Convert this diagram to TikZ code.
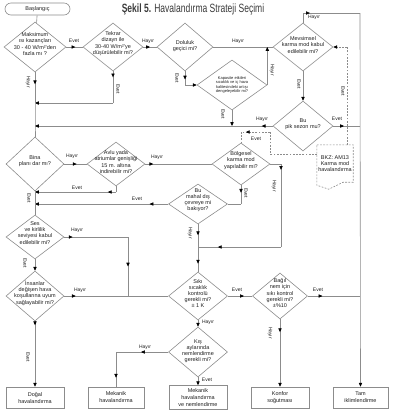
\documentclass[tikz,border=0pt]{standalone}
\usepackage{fontspec}
\setmainfont{Liberation Sans}
\usepackage{graphicx}
\usetikzlibrary{shapes.geometric,arrows.meta,decorations.markings}
\definecolor{lg}{HTML}{8C8C8C}
\definecolor{tx}{HTML}{1E1E1E}
\definecolor{ttlc}{HTML}{3A3A3A}
\tikzset{
  mytri/.tip={Triangle[length=3.8pt,width=3.3pt,color=black]},
  ln/.style={draw=lg, line width=0.6pt},
  dl/.style={draw=lg, line width=0.6pt, dash pattern=on 1.8pt off 1.4pt},
  ar/.style={postaction={decorate, decoration={markings, mark=at position #1 with {\arrow{mytri}}}}},
  ar2/.style 2 args={postaction={decorate, decoration={markings, mark=at position #1 with {\arrow{mytri}}, mark=at position #2 with {\arrow{mytri}}}}},
  ae/.style={-{mytri}},
  dia/.style 2 args={diamond, draw=lg, line width=0.6pt, minimum width=#1pt, minimum height=#2pt, inner sep=0pt},
  dt/.style={font=\fontsize{5.5}{6.2}\selectfont, text=tx, align=center, inner sep=0pt},
  dts/.style={font=\fontsize{4}{4.2}\selectfont, text=tx, align=center, inner sep=0pt},
  boxst/.style={draw=lg, line width=0.6pt, minimum width=#1pt, minimum height=21pt, inner sep=0pt, align=center, font=\fontsize{5.5}{7}\selectfont, text=tx},
  startst/.style={draw=lg, line width=0.6pt, rounded corners=6pt, minimum width=65pt, minimum height=12pt, inner sep=0pt, font=\fontsize{5.5}{6.2}\selectfont, text=tx},
  bkzst/.style={minimum width=36pt, minimum height=37pt, inner sep=0pt, align=center, font=\fontsize{5.5}{6.2}\selectfont, text=tx},
  lab/.style={font=\fontsize{5}{6}\selectfont, text=tx, inner sep=0pt},
  labv/.style={lab, rotate=-90},
  ttl/.style={font=\fontsize{12}{14}\selectfont, text=ttlc, inner sep=0pt}
}
\begin{document}
\begin{tikzpicture}[x=1pt,y=-1pt]
\useasboundingbox (0,0) rectangle (400,416);
\node[ttl] (title) at (193,9.5) {\scalebox{0.71}[1]{\textbf{Şekil 5.} Havalandırma Strateji Seçimi}};

% nodes
\node[startst] (start) at (37.5,9) {Başlangıç};
\node[dia={62}{50}, label={[dt,name=d1t,yshift=3pt]center:Maksimum\\ısı kazançları\\30 - 40 W/m²'den\\fazla mı ?}] (d1) at (35,47) {};
\node[dia={60}{48}, label={[dt,name=d2t,yshift=3.5pt]center:Tekrar\\dizayn ile\\30-40 W/m²'ye\\düşürülebilir mi?}] (d2) at (113,47) {};
\node[dia={56}{48}, label={[dt,name=d3t,yshift=1pt]center:Doluluk\\geçici mi?}] (d3) at (185,47) {};
\node[dia={60}{48}, label={[dt,name=d4t,yshift=2pt]center:Mevsimsel\\karma mod kabul\\edilebilir mi?}] (d4) at (303,47) {};
\node[dia={70}{50}, label={[dts,name=d5t]center:Kapasite etkileri\\sıcaklık ve iç hava\\kalitesindeki artışı\\dengeleyebilir mi?}] (d5) at (232,85) {};
\node[dia={60}{50}, label={[dt,name=d6t,yshift=2pt]center:Bu\\pik sezon mu?}] (d6) at (303,126) {};
\node[dia={58}{54}, label={[dt,name=d7t,yshift=3pt]center:Bina\\planı dar mı?}] (d7) at (35,164) {};
\node[dia={58}{44}, label={[dt,name=d8t,yshift=2pt]center:Avlu yada\\atriumlar genişliği\\15 m. altına\\indirebilir mi?}] (d8) at (116,164) {};
\node[dia={58}{42}, label={[dt,name=d9t,yshift=3.5pt]center:Bölgesel\\karma mod\\yapılabilir mi?}] (d9) at (241,164) {};
\node[dia={59}{40}, label={[dt,name=d10t,yshift=4pt]center:Bu\\mahal dış\\çevreye mi\\bakıyor?}] (d10) at (198,204) {};
\node[dia={58}{44}, label={[dt,name=d11t,yshift=4pt]center:Ses\\ve kirlilik\\seviyesi kabul\\edilebilir mi?}] (d11) at (35,237) {};
\node[dia={58}{50}, label={[dt,name=d12t,yshift=3pt]center:İnsanlar\\değişen hava\\koşullarına uyum\\sağlayabilir mi?}] (d12) at (35,296) {};
\node[dia={59}{48}, label={[dt,name=d13t,yshift=2.5pt]center:Sıkı\\sıcaklık\\kontrolü\\gerekli mi?\\± 1 K}] (d13) at (198,296) {};
\node[dia={55}{46}, label={[dt,name=d14t,yshift=3pt]center:Bağıl\\nem için\\sıkı kontrol\\gerekli mi?\\±\%10}] (d14) at (280,296) {};
\node[dia={59}{50}, label={[dt,name=d15t,yshift=1pt]center:Kış\\aylarında\\nemlendirme\\gerekli mi?}] (d15) at (198,352) {};

\node[boxst=58] (b1) at (35,397.5) {Doğal\\havalandırma};
\node[boxst=56] (b2) at (116,397.5) {Mekanik\\havalandırma};
\node[boxst=58, minimum height=24pt] (b3) at (198,397.5) {Mekanik\\havalandırma\\ve nemlendirme};
\node[boxst=58] (b4) at (280,397.5) {Konfor\\soğutması};
\node[boxst=55] (b5) at (360.5,397.5) {Tam\\iklimlendirme};

\node[bkzst] (bkz) at (335,163.5) {BKZ: AM13\\Karma mod\\havalandırma};
\draw[dl] (bkz.north west) -- (bkz.north east) -- (bkz.south east) -- ([xshift=-10pt]bkz.south east) -- ([xshift=12pt,yshift=-7pt]bkz.south west) -- ([yshift=-3pt]bkz.south west) -- cycle;

% coordinates
\coordinate (jA) at (35,103);
\coordinate (jB) at (35,126);
\coordinate (jD) at (35,192);
\coordinate (t1) at (303,13);
\coordinate (t2) at (360,13);
\coordinate (m1) at (281,164);
\coordinate (m2) at (281,247);
\coordinate (m3) at (198,247);
\coordinate (n1) at (128,237);
\coordinate (n2) at (128,296);
\coordinate (q1) at (347,145);
\coordinate (q2) at (347,47);
\coordinate (r0) at (317,154);
\coordinate (r1) at (270,154);
\coordinate (r2) at (270,132);
\coordinate (r3) at (241,132);

% connectors
\draw[ln] (start) -- (d1);
\draw[ln,ar=0.55] (d1.east) -- (d2.west);
\draw[ln,ar=0.19] (d2.south) -- (d2.south |- jA);
\draw[ln,ae] (d2.south |- jA) -- (jA);
\draw[ln,ar=0.39] (d1.south) -- (jA);
\draw[ln] (jA) -- (jB) -- (d7.north);
\draw[ln,ar=0.5] (d2.east) -- (d3.west);
\draw[ln] (d3.east) -- (d4.west);
\draw[ln,ar=0.6] (d3.south) -- (d3.south |- d5.west);
\draw[ln,ae] (d3.south |- d5.west) -- (d5.west);
\draw[ln,ae] (d5.south) -- (d5.south |- jB);
\draw[ln,ae] (d5.east) -- (d5.east |- d4.west);
\draw[ln] (d4.north) -- (t1);
\draw[ln,ar=0.12] (t1) -- (t2);
\draw[ln,ae] (t2) -- (b5.north);
\draw[ln,ae] (d4.south) -- (d6.north);
\draw[ln,ar=0.27] (d6.west) -- (d5.south |- jB);
\draw[ln,ae] (d5.south |- jB) -- (jB);
\draw[ln,ar=0.4] (d6.east) -- (d6.east -| t2);
\draw[ln,ar=0.55] (d7.east) -- (d8.west);
\draw[ln] (d8.south) -- (d8.south |- jD);
\draw[ln,ar=0.1,ae] (d8.south |- jD) -- (jD);
\draw[ln,ar=0.12] (d8.east) -- (d9.west);
\draw[ln,ar=0.4] (d9.south) -- (d9.south |- d10.east);
\draw[ln] (d9.south |- d10.east) -- (d10.east);
\draw[ln] (d9.east) -- (m1);
\draw[ln,ar=0.07] (m1) -- (m2);
\draw[ln,ar=0.76] (m2) -- (m3);
\draw[ln,ar=0.14,ae] (d10.west) -- (d10.west -| jA);
\draw[ln] (d7.south) -- (d11.north);
\draw[ln,ar=0.13] (d11.east) -- (n1);
\draw[ln,ar=0.5] (n1) -- (n2);
\draw[ln,ae] (d11.south) -- (d12.north);
\draw[ln,ar=0.11] (d12.east) -- (d13.west);
\draw[ln,ar=0.06,ae] (d12.south) -- (b1.north);
\draw[ln,ar2={0.23}{0.83}] (d10.south) -- (d13.north);
\draw[ln,ar=0.66] (d13.east) -- (d14.west);
\draw[ln,ar=0.28] (d14.east) -- (d14.east -| t2);
\draw[ln,ar=0.19,ae] (d14.south) -- (b4.north);
\draw[ln,ae] (d13.south) -- (d15.north);
\draw[ln,ar=0.52] (d15.west) -- (d15.west -| b2.north);
\draw[ln,ar=0.74] (d15.west -| b2.north) -- (b2.north);
\draw[ln,ae] (d15.south) -- (b3.north);
% dashed
\draw[dl] (q1) -- (q2);
\draw[dl,ae] (q2) -- (d4.east);
\draw[dl] (r0) -- (r1) -- (r2);
\draw[dl,ar=0.83] (r2) -- (r3);
\draw[dl] (r3) -- (d9.north);

% labels
\node[lab] (l1) at (74,41) {Evet};
\node[labv] (l2) at (28,82) {Hayır};
\node[labv] (l3) at (118,89) {Evet};
\node[lab] (l4) at (148,41) {Hayır};
\node[lab] (l5) at (238,41) {Hayır};
\node[labv] (l6) at (177,78) {Evet};
\node[labv] (l7) at (272,70) {Hayır};
\node[labv] (l8) at (223,114) {Evet};
\node[lab] (l9) at (314,17) {Hayır};
\node[labv] (l10) at (299,84) {Evet};
\node[lab] (l11) at (262,119) {Hayır};
\node[lab] (l12) at (337,119) {Evet};
\node[labv] (l13) at (343,91) {Evet};
\node[lab] (l14) at (256,139) {Evet};
\node[lab] (l15) at (72,156) {Hayır};
\node[lab] (l16) at (77,188) {Evet};
\node[lab] (l17) at (157,157) {Hayır};
\node[labv] (l18) at (246,193) {Evet};
\node[labv] (l19) at (274,186) {Hayır};
\node[lab] (l20) at (137,199) {Evet};
\node[labv] (l21) at (29,198) {Evet};
\node[lab] (l22) at (77,230) {Hayır};
\node[labv] (l23) at (25,263) {Evet};
\node[lab] (l24) at (80,290) {Hayır};
\node[labv] (l25) at (28,357) {Evet};
\node[labv] (l26) at (190,233) {Hayır};
\node[lab] (l27) at (237,290) {Evet};
\node[lab] (l28) at (318,290) {Evet};
\node[labv] (l29) at (270,333) {Hayır};
\node[lab] (l30) at (208,322) {Hayır};
\node[lab] (l31) at (145,347) {Hayır};
\node[lab] (l32) at (207,380) {Evet};
\end{tikzpicture}
\end{document}
